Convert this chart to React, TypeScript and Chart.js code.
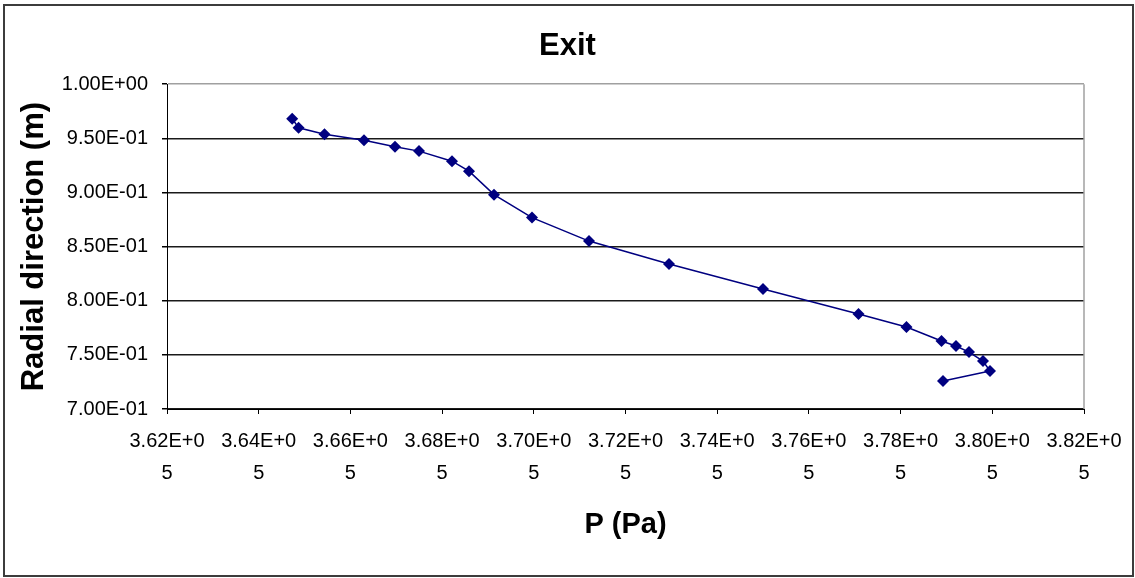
import React, { useEffect, useRef } from "react";
import { Chart, registerables } from "chart.js";

Chart.register(...registerables);

const pressure = [
  364730, 364870, 365435, 366297, 366973, 367496, 368216, 368587, 369132, 369961,
  371204, 372949, 374999, 377082, 378128, 378892, 379208, 379492, 379797, 379950, 378925,
];
const radial = [
  0.9682, 0.9598, 0.9538, 0.9483, 0.9423, 0.9382, 0.9289, 0.9197, 0.898, 0.8768,
  0.8551, 0.8339, 0.8108, 0.7877, 0.7757, 0.7628, 0.7582, 0.7526, 0.7443, 0.7351, 0.7259,
];
const xTickLabels = [
  "3.62E+05", "3.64E+05", "3.66E+05", "3.68E+05", "3.70E+05", "3.72E+05",
  "3.74E+05", "3.76E+05", "3.78E+05", "3.80E+05", "3.82E+05",
];
const yTickLabels = [
  "7.00E-01", "7.50E-01", "8.00E-01", "8.50E-01", "9.00E-01", "9.50E-01", "1.00E+00",
];
const chartTitle = "Exit";
const xTitle = "P (Pa)";
const yTitle = "Radial direction (m)";

const FONT = "'Liberation Sans', Arial, sans-serif";

const framePlugin = {
  id: "frame",
  afterDraw(chart: any) {
    const { ctx, chartArea } = chart;
    ctx.save();
    // plot area right border (gray)
    ctx.strokeStyle = "#a0a0a0";
    ctx.lineWidth = 1.5;
    ctx.beginPath();
    ctx.moveTo(chartArea.right, chartArea.top);
    ctx.lineTo(chartArea.right, chartArea.bottom);
    ctx.stroke();
    // outer chart frame
    ctx.strokeStyle = "#3c3c3c";
    ctx.lineWidth = 2;
    ctx.strokeRect(4, 5, 1129, 571);
    ctx.restore();
  },
};

export default function App() {
  const ref = useRef<HTMLCanvasElement>(null);

  useEffect(() => {
    if (!ref.current) return;
    const data = pressure.map((p, i) => ({ x: p, y: radial[i] }));
    const chart = new Chart(ref.current, {
      type: "scatter",
      data: {
        datasets: [
          {
            data,
            showLine: true,
            borderColor: "#000080",
            borderWidth: 1.5,
            tension: 0,
            pointStyle: "rectRot",
            pointRadius: 6,
            pointBackgroundColor: "#000080",
            pointBorderColor: "#000080",
            pointBorderWidth: 0,
          },
        ],
      },
      options: {
        responsive: false,
        animation: false,
        events: [],
        layout: { padding: 0 },
        plugins: {
          legend: { display: false },
          tooltip: { enabled: false },
          title: {
            display: true,
            text: chartTitle,
            color: "#000",
            font: { family: FONT, size: 31, weight: "bold", lineHeight: 1.2 },
            padding: { top: 28, bottom: 19 },
          },
        },
        scales: {
          x: {
            type: "linear",
            min: 362000,
            max: 382000,
            afterFit: (s: any) => {
              s.height = 169;
            },
            ticks: {
              stepSize: 2000,
              autoSkip: false,
              maxRotation: 0,
              minRotation: 0,
              padding: 11,
              color: "#000",
              font: { family: FONT, size: 20, lineHeight: 1.6 },
              callback: (_v: any, i: number) => {
                const s = xTickLabels[i] ?? "";
                return [s.slice(0, -1), s.slice(-1)];
              },
            },
            grid: {
              display: true,
              drawOnChartArea: false,
              drawTicks: true,
              tickLength: 5,
              tickColor: "#000",
              color: "#000",
            },
            border: { display: true, color: "#000", width: 1 },
            title: {
              display: true,
              text: xTitle,
              color: "#000",
              font: { family: FONT, size: 29, weight: "bold", lineHeight: 1.2 },
              padding: { top: 0, bottom: 36 },
            },
          },
          y: {
            type: "linear",
            min: 0.7,
            max: 1.0,
            afterFit: (s: any) => {
              s.width = 167;
            },
            ticks: {
              stepSize: 0.05,
              autoSkip: false,
              padding: 14,
              color: "#000",
              font: { family: FONT, size: 20 },
              callback: (_v: any, i: number) => yTickLabels[i] ?? "",
            },
            grid: {
              display: true,
              drawTicks: true,
              tickLength: 5,
              tickColor: "#000",
              lineWidth: 1.5,
              color: (c: any) => (c.tick && c.tick.value > 0.999 ? "#a0a0a0" : "#1a1a1a"),
            },
            border: { display: true, color: "#000", width: 1 },
            title: {
              display: true,
              text: yTitle,
              color: "#000",
              font: { family: FONT, size: 31, weight: "bold", lineHeight: 1.2 },
              padding: { top: 16, bottom: 0 },
            },
          },
          y2: {
            type: "linear",
            position: "right",
            min: 0,
            max: 1,
            display: true,
            afterFit: (s: any) => {
              s.width = 51;
            },
            ticks: { display: false },
            grid: { display: false, drawTicks: false },
            border: { display: false },
          },
        },
      },
      plugins: [framePlugin],
    } as any);
    return () => chart.destroy();
  }, []);

  return (
    <div style={{ position: "absolute", left: 0, top: 0, width: 1135, height: 578, background: "#fff" }}>
      <canvas ref={ref} width={1135} height={578} />
    </div>
  );
}
